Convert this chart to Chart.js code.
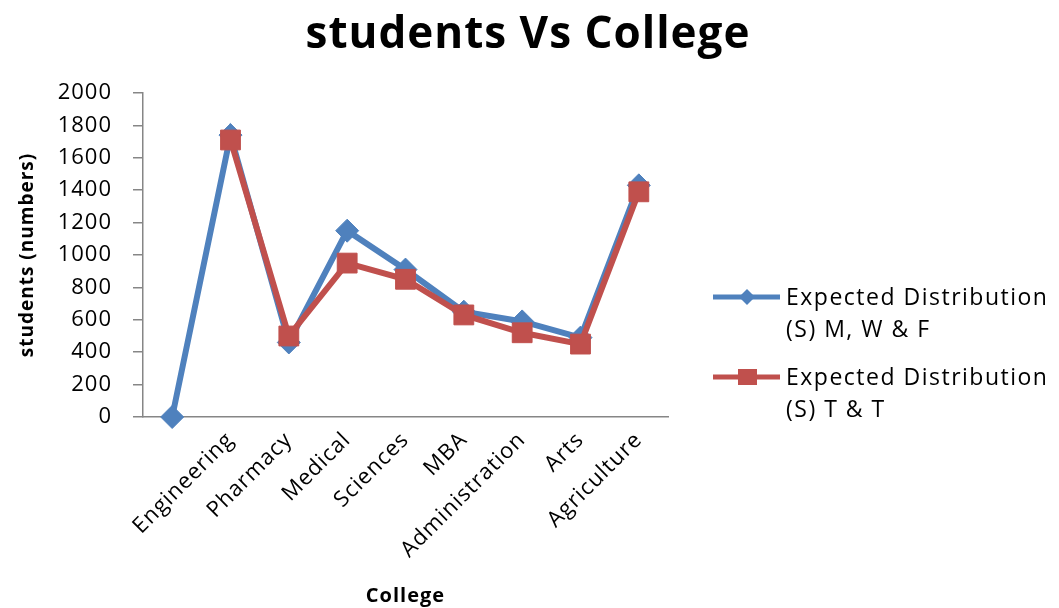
<!DOCTYPE html>
<html>
<head>
<meta charset="utf-8">
<title>students Vs College</title>
<script src="https://cdn.jsdelivr.net/npm/chart.js@4"></script>
<style>
  html, body { margin: 0; padding: 0; background: #fff; }
  #wrap { width: 1059px; height: 608px; }
</style>
</head>
<body>
<div id="wrap"><canvas id="collegeChart"></canvas></div>
<script>
// categories (first slot is the blank origin point)
const colleges = ['', 'Engineering', 'Pharmacy', 'Medical', 'Sciences', 'MBA', 'Administration', 'Arts', 'Agriculture'];
const mwfValues = [0, 1740, 460, 1150, 910, 650, 590, 490, 1430];
const ttValues = [null, 1710, 500, 950, 850, 630, 520, 450, 1390];
const seriesNames = [
    ['Expected Distribution', '(S) M, W & F'],
    ['Expected Distribution', '(S) T & T']
];
const yTicks = [0, 200, 400, 600, 800, 1000, 1200, 1400, 1600, 1800, 2000];
const chartTitle = 'students Vs College';

const blue = '#4F81BD';
const red = '#C0504D';
const axisGrey = '#868686';

Chart.defaults.font.family = "'Open Sans', sans-serif";
Chart.defaults.color = '#000';

// slightly wider text spacing for the whole chart
const spacing = {
    id: 'spacing',
    beforeDraw(chart) {
        chart.ctx.letterSpacing = '1px';
    }
};

// title centred over the whole canvas, legend on the right with two-line labels
const sideLegend = {
    id: 'sideLegend',
    afterDraw(chart) {
        const ctx = chart.ctx;
        ctx.save();
        ctx.fillStyle = '#000';
        ctx.font = "bold 44px 'Open Sans', sans-serif";
        ctx.textAlign = 'center';
        ctx.textBaseline = 'alphabetic';
        ctx.letterSpacing = '1px';
        ctx.fillText(chartTitle, 528, 48);

        const rows = [297, 377];
        ctx.letterSpacing = '1.5px';
        chart.data.datasets.forEach(function(ds, i) {
            const y = rows[i];
            ctx.strokeStyle = ds.borderColor;
            ctx.lineWidth = 5;
            ctx.beginPath();
            ctx.moveTo(713, y);
            ctx.lineTo(780, y);
            ctx.stroke();
            ctx.fillStyle = ds.borderColor;
            if (ds.pointStyle === 'rectRot') {
                ctx.beginPath();
                ctx.moveTo(747, y - 8);
                ctx.lineTo(755, y);
                ctx.lineTo(747, y + 8);
                ctx.lineTo(739, y);
                ctx.closePath();
                ctx.fill();
            } else {
                ctx.fillRect(738, y - 8, 19, 16);
            }
            ctx.fillStyle = '#000';
            ctx.font = "23px 'Open Sans', sans-serif";
            ctx.textAlign = 'left';
            seriesNames[i].forEach(function(line, k) {
                ctx.fillText(line, 786, y + 8 + k * 32);
            });
        });
        ctx.restore();
    }
};

const chartCtx = document.getElementById('collegeChart').getContext('2d');
const collegeChart = new Chart(chartCtx, {
    type: 'line',
    data: {
        labels: colleges,
        datasets: [{
            label: seriesNames[0].join(' '),
            data: mwfValues,
            borderColor: blue,
            backgroundColor: blue,
            borderWidth: 6,
            pointStyle: 'rectRot',
            pointRadius: 11.5,
            pointBorderWidth: 1,
            tension: 0,
            clip: false,
            order: 1
        }, {
            label: seriesNames[1].join(' '),
            data: ttValues,
            borderColor: red,
            backgroundColor: red,
            borderWidth: 6,
            pointStyle: 'rect',
            pointRadius: 14,
            pointBorderWidth: 1,
            tension: 0,
            clip: false,
            order: 0
        }]
    },
    options: {
        responsive: true,
        maintainAspectRatio: false,
        animation: false,
        layout: { padding: { left: 0, right: 391, top: 93, bottom: 0 } },
        plugins: {
            legend: { display: false },
            tooltip: { enabled: false },
            title: { display: false }
        },
        scales: {
            x: {
                offset: true,
                grid: { display: false, drawTicks: false },
                border: { display: true, color: axisGrey, width: 1.5 },
                ticks: {
                    autoSkip: false,
                    minRotation: 45,
                    maxRotation: 45,
                    padding: 10,
                    font: { size: 22 }
                },
                title: {
                    display: true,
                    text: 'College',
                    font: { size: 20, weight: 'bold' },
                    padding: { top: 0, bottom: 0 }
                },
                afterFit(scale) { scale.height = 191; }
            },
            y: {
                min: 0,
                max: 2000,
                afterBuildTicks(scale) {
                    scale.ticks = yTicks.map(v => ({ value: v }));
                },
                grid: {
                    display: true,
                    drawOnChartArea: false,
                    drawTicks: true,
                    tickLength: 10,
                    color: axisGrey,
                    lineWidth: 1.5
                },
                border: { display: true, color: axisGrey, width: 1.5 },
                ticks: {
                    padding: 21,
                    font: { size: 22 },
                    callback: value => String(value)
                },
                title: {
                    display: true,
                    text: 'students (numbers)',
                    font: { size: 19, weight: 'bold' },
                    padding: { top: 16, bottom: 0 }
                },
                afterFit(scale) { scale.width = 143; }
            }
        }
    },
    plugins: [spacing, sideLegend]
});
</script>
</body>
</html>
